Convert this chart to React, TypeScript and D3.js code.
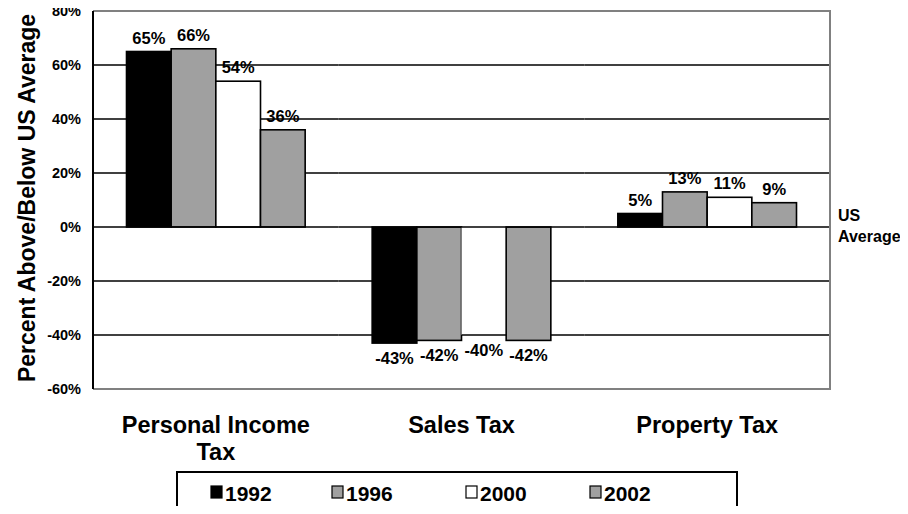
import React from 'react';
import * as d3 from 'd3';

const categories = ['Personal Income Tax', 'Sales Tax', 'Property Tax'];
const categoryLines: string[][] = [['Personal Income', 'Tax'], ['Sales Tax'], ['Property Tax']];
const years = ['1992', '1996', '2000', '2002'];
const yearColors = ['#000000', '#a0a0a0', '#ffffff', '#a0a0a0'];

// percent above/below US average, per category, per year
const values1992 = [65, -43, 5];
const values1996 = [66, -42, 13];
const values2000 = [54, -40, 11];
const values2002 = [36, -42, 9];
const seriesValues = [values1992, values1996, values2000, values2002];

const yTicks = [-60, -40, -20, 0, 20, 40, 60, 80];

const FONT = '"Liberation Sans", Arial, sans-serif';

const App: React.FC = () => {
  const width = 908;
  const height = 514;
  const plot = { left: 93, right: 830, top: 11, bottom: 389 };

  const y = d3.scaleLinear().domain([-60, 80]).range([plot.bottom, plot.top]);
  const x0 = d3.scaleBand().domain(categories).range([plot.left, plot.right]);
  const x1 = d3.scaleBand().domain(years).range([0, x0.bandwidth()]).paddingOuter(0.75);

  const bars = categories.flatMap((cat, ci) =>
    years.map((yr, yi) => ({ cat, yr, yi, value: seriesValues[yi][ci] }))
  );

  return (
    <svg width={width} height={height} style={{ display: 'block', margin: -8 }} fontFamily={FONT}>
      <rect width={width} height={height} fill="#fff" />

      {/* bars */}
      {bars.map(b => {
        const bx = (x0(b.cat) || 0) + (x1(b.yr) || 0);
        const top = y(Math.max(0, b.value));
        const bottom = y(Math.min(0, b.value));
        const noOutline = b.cat === 'Sales Tax' && b.yr === '2000';
        return (
          <rect
            key={b.cat + b.yr}
            x={bx}
            y={top}
            width={x1.bandwidth()}
            height={bottom - top}
            fill={yearColors[b.yi]}
            stroke={noOutline ? 'none' : '#000'}
            strokeWidth={1.6}
          />
        );
      })}

      {/* gridlines: drawn in gaps only where bars are not opaque */}
      {yTicks.filter(t => t !== 80 && t !== -60).map(t => (
        <g key={t}>
          {categories.map((cat, ci) => {
            // segments between bars that don't reach the gridline
            const segs: [number, number][] = [];
            let cur = t === 0 ? plot.left : plot.left;
            const start = ci === 0 ? plot.left : (x0(cat) || 0);
            cur = start;
            years.forEach((yr, yi) => {
              const v = seriesValues[yi][ci];
              const bx = (x0(cat) || 0) + (x1(yr) || 0);
              const covered = t !== 0 && ((t > 0 && v > t) || (t < 0 && v < t));
              if (covered) {
                segs.push([cur, bx]);
                cur = bx + x1.bandwidth();
              }
            });
            const end = (x0(cat) || 0) + x0.bandwidth();
            segs.push([cur, ci === categories.length - 1 ? plot.right : end]);
            return segs.map(([a, b2], si) => (
              <line key={ci + '-' + si} x1={a} x2={b2} y1={y(t)} y2={y(t)} stroke="#000" strokeWidth={1.6} />
            ));
          })}
        </g>
      ))}

      {/* frame */}
      <path
        d={`M${plot.left},${y(80)}H${plot.right}V${y(-60)}H${plot.left}`}
        fill="none"
        stroke="#808080"
        strokeWidth={2}
      />
      <line x1={plot.left} x2={plot.left} y1={y(80)} y2={y(-60)} stroke="#000" strokeWidth={2} />

      {/* value labels */}
      {bars.map(b => {
        const cx = (x0(b.cat) || 0) + (x1(b.yr) || 0) + x1.bandwidth() / 2;
        const ly = b.value >= 0 ? y(b.value) - 8 : y(b.value) + 21;
        return (
          <text key={'l' + b.cat + b.yr} x={cx} y={ly} textAnchor="middle" fontSize={16.5} fontWeight="bold">
            {b.value}%
          </text>
        );
      })}

      {/* y tick labels */}
      {yTicks.map(t => (
        <text key={'t' + t} x={81} y={y(t)} dy="0.36em" textAnchor="end" fontSize={14.5} fontWeight="bold">
          {t}%
        </text>
      ))}

      {/* y title */}
      <text
        transform={`translate(35,${(plot.top + plot.bottom) / 2 - 2}) rotate(-90)`}
        textAnchor="middle"
        fontSize={23}
        fontWeight="bold"
      >
        Percent Above/Below US Average
      </text>

      {/* US Average label */}
      <text x={838} y={221} fontSize={16} fontWeight="bold">US</text>
      <text x={838} y={242} fontSize={16} fontWeight="bold">Average</text>

      {/* category labels */}
      {categories.map((cat, ci) => (
        <text
          key={'c' + cat}
          x={(x0(cat) || 0) + x0.bandwidth() / 2}
          y={433}
          textAnchor="middle"
          fontSize={23.5}
          fontWeight="bold"
        >
          {categoryLines[ci].map((line, li) => (
            <tspan key={li} x={(x0(cat) || 0) + x0.bandwidth() / 2} dy={li === 0 ? 0 : 27}>
              {line}
            </tspan>
          ))}
        </text>
      ))}

      {/* legend */}
      <rect x={177} y={472} width={560} height={60} fill="#fff" stroke="#000" strokeWidth={2} />
      {years.map((yr, i) => {
        const lx = [211, 332, 466, 590][i];
        return (
          <g key={'lg' + yr} transform={`translate(${lx},486)`}>
            <rect width={11} height={12} fill={yearColors[i]} stroke="#000" strokeWidth={1.2} />
            <text x={14} y={15} fontSize={21} fontWeight="bold">{yr}</text>
          </g>
        );
      })}
    </svg>
  );
};

export default App;
